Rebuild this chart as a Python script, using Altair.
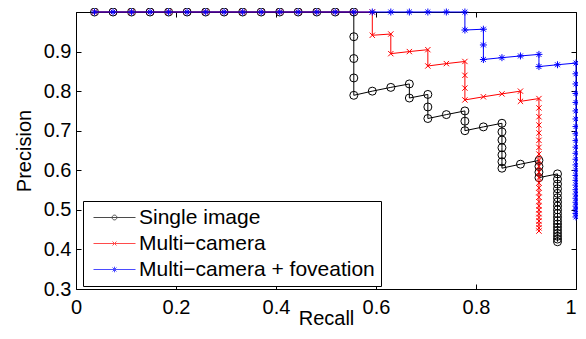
import altair as alt
import pandas as pd

series_names = ["Single image", "Multi−camera", "Multi−camera + foveation"]
series_colors = ["#000000", "#ff0000", "#0000ff"]

single_recall = [
    0.0370, 0.0741, 0.1111, 0.1481, 0.1852, 0.2222, 0.2593, 0.2963, 0.3333, 0.3704,
    0.4074, 0.4444, 0.4815, 0.5185, 0.5556, 0.5556, 0.5556, 0.5556, 0.5556, 0.5926,
    0.6296, 0.6667, 0.6667, 0.7037, 0.7037, 0.7037, 0.7407, 0.7778, 0.7778, 0.7778,
    0.8148, 0.8519, 0.8519, 0.8519, 0.8519, 0.8519, 0.8519, 0.8519, 0.8889, 0.9259,
    0.9259, 0.9259, 0.9259, 0.9630, 0.9630, 0.9630, 0.9630, 0.9630, 0.9630, 0.9630,
    0.9630, 0.9630, 0.9630, 0.9630, 0.9630, 0.9630, 0.9630, 0.9630, 0.9630, 0.9630,
    0.9630, 0.9630,
]
single_precision = [
    1.0, 1.0, 1.0, 1.0, 1.0, 1.0, 1.0, 1.0, 1.0, 1.0,
    1.0, 1.0, 1.0, 1.0, 1.0, 0.9375, 0.8824, 0.8333, 0.7895, 0.8000,
    0.8095, 0.8182, 0.7826, 0.7917, 0.7600, 0.7308, 0.7407, 0.7500, 0.7241, 0.7000,
    0.7097, 0.7188, 0.6970, 0.6765, 0.6571, 0.6389, 0.6216, 0.6053, 0.6154, 0.6250,
    0.6098, 0.5952, 0.5814, 0.5909, 0.5778, 0.5652, 0.5532, 0.5417, 0.5306, 0.5200,
    0.5098, 0.5000, 0.4906, 0.4815, 0.4727, 0.4643, 0.4561, 0.4483, 0.4407, 0.4333,
    0.4262, 0.4194,
]

multi_recall = [
    0.0370, 0.0741, 0.1111, 0.1481, 0.1852, 0.2222, 0.2593, 0.2963, 0.3333, 0.3704,
    0.4074, 0.4444, 0.4815, 0.5185, 0.5556, 0.5926, 0.5926, 0.6296, 0.6296, 0.6667,
    0.7037, 0.7037, 0.7407, 0.7778, 0.7778, 0.7778, 0.7778, 0.8148, 0.8519, 0.8889,
    0.8889, 0.9259, 0.9259, 0.9259, 0.9259, 0.9259, 0.9259, 0.9259, 0.9259, 0.9259,
    0.9259, 0.9259, 0.9259, 0.9259, 0.9259, 0.9259, 0.9259, 0.9259, 0.9259, 0.9259,
    0.9259, 0.9259, 0.9259, 0.9259, 0.9259, 0.9259,
]
multi_precision = [
    1.0, 1.0, 1.0, 1.0, 1.0, 1.0, 1.0, 1.0, 1.0, 1.0,
    1.0, 1.0, 1.0, 1.0, 1.0, 1.0, 0.9412, 0.9444, 0.8947, 0.9000,
    0.9048, 0.8636, 0.8696, 0.8750, 0.8400, 0.8077, 0.7778, 0.7857, 0.7931, 0.8000,
    0.7742, 0.7813, 0.7576, 0.7353, 0.7143, 0.6944, 0.6757, 0.6579, 0.6410, 0.6250,
    0.6098, 0.5952, 0.5814, 0.5682, 0.5556, 0.5435, 0.5319, 0.5208, 0.5102, 0.5000,
    0.4902, 0.4808, 0.4717, 0.4630, 0.4545, 0.4464,
]

fov_recall = [
    0.0370, 0.0741, 0.1111, 0.1481, 0.1852, 0.2222, 0.2593, 0.2963, 0.3333, 0.3704,
    0.4074, 0.4444, 0.4815, 0.5185, 0.5556, 0.5926, 0.6296, 0.6667, 0.7037, 0.7407,
    0.7778, 0.7778, 0.8148, 0.8148, 0.8148, 0.8519, 0.8889, 0.9259, 0.9259, 0.9630,
    1.0, 1.0, 1.0, 1.0, 1.0, 1.0, 1.0, 1.0, 1.0, 1.0,
    1.0, 1.0, 1.0, 1.0, 1.0, 1.0, 1.0, 1.0, 1.0, 1.0,
    1.0, 1.0, 1.0, 1.0, 1.0, 1.0,
]
fov_precision = [
    1.0, 1.0, 1.0, 1.0, 1.0, 1.0, 1.0, 1.0, 1.0, 1.0,
    1.0, 1.0, 1.0, 1.0, 1.0, 1.0, 1.0, 1.0, 1.0, 1.0,
    1.0, 0.9545, 0.9565, 0.9167, 0.8800, 0.8846, 0.8889, 0.8929, 0.8621, 0.8667,
    0.8710, 0.8438, 0.8182, 0.7941, 0.7714, 0.7500, 0.7297, 0.7105, 0.6923, 0.6750,
    0.6585, 0.6429, 0.6279, 0.6136, 0.6000, 0.5870, 0.5745, 0.5625, 0.5510, 0.5400,
    0.5294, 0.5192, 0.5094, 0.5000, 0.4909, 0.4821,
]

x_ticks = [0, 0.2, 0.4, 0.6, 0.8, 1.0]
y_tick_labels = [0.3, 0.4, 0.5, 0.6, 0.7, 0.8, 0.9]
y_ticks = [0.3, 0.4, 0.5, 0.6, 0.7, 0.8, 0.9, 1.0]

W, H = 500, 277
FONT = "Liberation Sans"

series_data = [
    (series_names[0], single_recall, single_precision),
    (series_names[1], multi_recall, multi_precision),
    (series_names[2], fov_recall, fov_precision),
]
rows = []
for name, rr, pp in series_data:
    for i, (r, p) in enumerate(zip(rr, pp)):
        rows.append({"series": name, "idx": i, "recall": r, "precision": p})
df = pd.DataFrame(rows)

xs = alt.Scale(domain=[0, 1], nice=False, zero=False)
ys = alt.Scale(domain=[0.3, 1], nice=False, zero=False)

ax_main_x = alt.Axis(orient="bottom", values=x_ticks, format=".1~f",
                     labelAlign={"condition": {"test": "datum.value == 1", "value": "right"},
                                 "value": "center"},
                     ticks=False, tickSize=0,
                     domain=True, domainColor="black", domainWidth=1, grid=False,
                     labelFont=FONT, labelFontSize=20, labelColor="black", labelPadding=8,
                     labelFlush=False, labelOverlap=False,
                     title="Recall", titleFont=FONT, titleFontSize=20, titleFontWeight="normal",
                     titleColor="black", titlePadding=-9)
ax_main_y = alt.Axis(orient="left", values=y_tick_labels, format=".1f", ticks=False, tickSize=0,
                     domain=True, domainColor="black", domainWidth=1, grid=False,
                     labelFont=FONT, labelFontSize=20, labelColor="black", labelPadding=5,
                     labelFlush=False, labelOverlap=False,
                     title="Precision", titleFont=FONT, titleFontSize=20, titleFontWeight="normal",
                     titleColor="black", titlePadding=9)
ax_in1_x = alt.Axis(orient="top", offset=-H, values=x_ticks, labels=False, domain=False,
                    ticks=True, tickSize=5, tickColor="black", grid=False, title=None)
ax_in1_y = alt.Axis(orient="right", offset=-W, values=y_ticks, labels=False, domain=False,
                    ticks=True, tickSize=5, tickColor="black", grid=False, title=None)
ax_in2_x = alt.Axis(orient="bottom", offset=-H, values=x_ticks, labels=False, domain=True,
                    domainColor="black", domainWidth=1,
                    ticks=True, tickSize=5, tickColor="black", grid=False, title=None)
ax_in2_y = alt.Axis(orient="left", offset=-W, values=y_ticks, labels=False, domain=True,
                    domainColor="black", domainWidth=1,
                    ticks=True, tickSize=5, tickColor="black", grid=False, title=None)

marker_shapes = [
    "circle",
    "M-1,-1L1,1M-1,1L1,-1",
    "M-1,0L1,0M0,-1L0,1M-0.7,-0.7L0.7,0.7M-0.7,0.7L0.7,-0.7",
]
marker_sizes = [64, 28, 49]

axis_plan = [
    (ax_main_x, ax_main_y),
    (ax_in1_x, ax_in1_y),
    (ax_in2_x, ax_in2_y),
]

layers = []
k = 0
for si, (name, _, _) in enumerate(series_data):
    base = alt.Chart(df).transform_filter(alt.datum.series == name)
    line = base.mark_line(color=series_colors[si], strokeWidth=1)
    pts = base.mark_point(color=series_colors[si], filled=False, strokeWidth=1,
                          shape=marker_shapes[si], size=marker_sizes[si], opacity=1)
    for ch in (line, pts):
        if k < len(axis_plan):
            xa, ya = axis_plan[k]
        else:
            xa, ya = None, None
        enc = dict(
            x=alt.X("recall:Q", scale=xs, axis=xa),
            y=alt.Y("precision:Q", scale=ys, axis=ya),
        )
        if ch is line:
            enc["order"] = alt.Order("idx:Q")
        layers.append(ch.encode(**enc))
        k += 1

legend_paths = [
    "M-5.25,0L5.25,0M-0.6,0A0.6,0.6 0 1,0 0.6,0A0.6,0.6 0 1,0 -0.6,0",
    "M-5.25,0L5.25,0M-0.5,-0.5L0.5,0.5M-0.5,0.5L0.5,-0.5",
    "M-5.25,0L5.25,0M0,-0.7L0,0.7M-0.5,-0.5L0.5,0.5M-0.5,0.5L0.5,-0.5",
]
legend_df = pd.DataFrame({"series": series_names})
leg = alt.Legend(title=None, orient="none", legendX=7, legendY=189, padding=6,
                 strokeColor="black", fillColor="white",
                 labelFont=FONT, labelFontSize=21, labelColor="black", labelLimit=400,
                 symbolSize=64, symbolStrokeWidth=1, symbolOffset=15, labelOffset=14,
                 rowPadding=4)
legend_layer = alt.Chart(legend_df).mark_point(filled=False, strokeWidth=1).encode(
    color=alt.Color("series:N", scale=alt.Scale(domain=series_names, range=series_colors), legend=leg),
    shape=alt.Shape("series:N", scale=alt.Scale(domain=series_names, range=legend_paths), legend=leg),
).transform_filter("false")
layers.append(legend_layer)

chart = alt.layer(*layers).resolve_axis(x="independent", y="independent").properties(
    width=W, height=H,
    padding={"left": 68, "top": 4, "right": 2, "bottom": 40},
    autosize=alt.AutoSizeParams(type="none"),
).configure_view(stroke=None).configure(font=FONT, background="white")

chart.save("out.html", embed_options={"renderer": "svg", "actions": False})
